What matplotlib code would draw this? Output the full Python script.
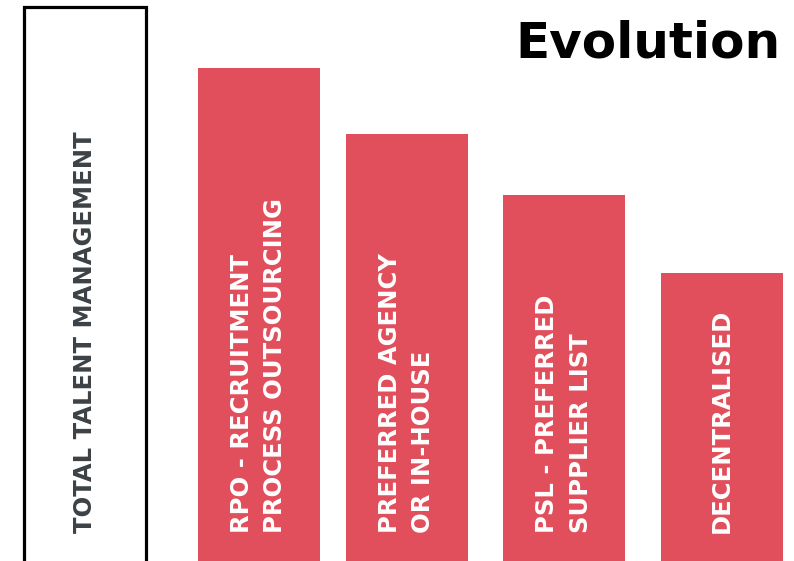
import matplotlib
matplotlib.use("Agg")
import matplotlib.pyplot as plt

# data
stages = [
    "TOTAL TALENT MANAGEMENT",
    "RPO - RECRUITMENT\nPROCESS OUTSOURCING",
    "PREFERRED AGENCY\nOR IN-HOUSE",
    "PSL - PREFERRED\nSUPPLIER LIST",
    "DECENTRALISED",
]
maturity = [100, 89, 77, 66, 52]
title = "Evolution"

# layout (pixel-like units across the figure)
centers = [84.5, 258.5, 406.5, 564, 721.5]
bar_w = 122
red = "#E04F5B"
grey_text = "#3B4145"

fig = plt.figure(figsize=(7.94, 5.61), dpi=100)
ax = fig.add_axes([0, 0, 1, 1])
ax.set_xlim(0, 794)
ax.set_ylim(0, 100 * 561 / 554)
ax.axis("off")

for i, (name, val, cx) in enumerate(zip(stages, maturity, centers)):
    if i == 0:
        ax.bar(cx, val + 5, bottom=-5, width=bar_w, facecolor="white",
               edgecolor="black", linewidth=2.3)
        color = grey_text
    else:
        ax.bar(cx, val + 5, bottom=-5, width=bar_w, color=red)
        color = "white"
    ax.text(cx, 5.1, name, rotation=90, rotation_mode="anchor",
            ha="left", va="center", multialignment="left",
            color=color, fontsize=17.5, fontweight="bold",
            family="DejaVu Sans", linespacing=1.5)

ax.text(780, 90.8, title, ha="right", va="baseline", fontsize=36,
        fontweight="bold", color="black", family="DejaVu Sans")

fig.savefig("out.png", dpi=100)
